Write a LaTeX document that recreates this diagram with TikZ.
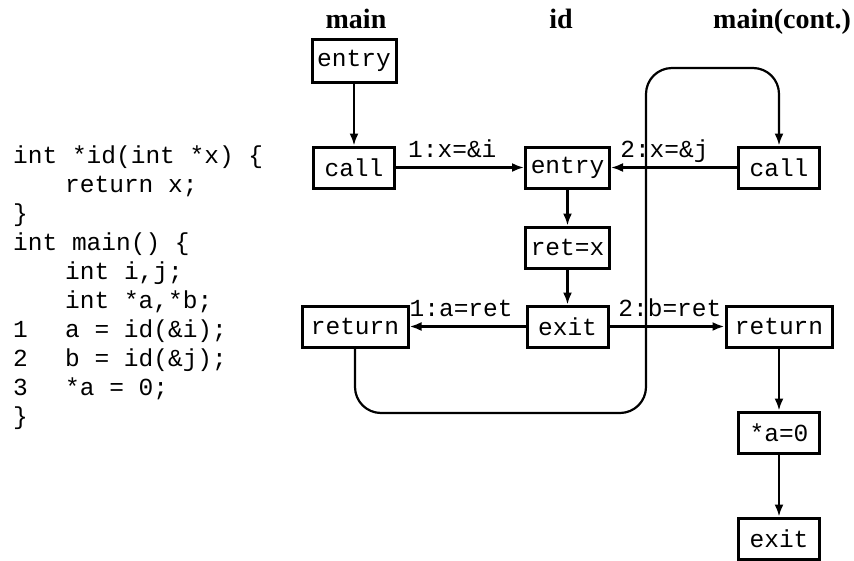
\documentclass[tikz,border=0pt]{standalone}
\usepackage{fontspec}
\setmainfont{Liberation Serif}
\newfontfamily\monof{Liberation Mono}
\usetikzlibrary{arrows.meta}
\begin{document}
\begin{tikzpicture}[x=1pt,y=-1pt,
  mfont/.style={font=\monof\fontsize{24.5}{29}\selectfont},
  box/.style={draw, line width=3pt, minimum height=41pt, inner sep=0pt, mfont},
  lbl/.style={mfont, inner sep=0pt, anchor=base, yshift=10pt},
  codeline/.style={mfont, inner sep=0pt, anchor=base west},
  ttl/.style={font=\bfseries\fontsize{28}{32}\selectfont, inner sep=0pt, anchor=base},
  conn/.style={line width=2.2pt, -{Latex[length=12pt,width=9pt]}},
  thickconn/.style={line width=3pt, -{Latex[length=12pt,width=9pt]}},
  ]
\useasboundingbox (0,0) rectangle (854,560);

% titles
\node[ttl] (t1) at (356,28) {main};
\node[ttl] (t2) at (561,28) {id};
\node[ttl] (t3) at (782,28) {main(cont.)};

% code
\node[codeline] (c1) at (13,163) {int *id(int *x) \{};
\node[codeline] (c2) at (13,192) {\hspace*{52pt}return x;};
\node[codeline] (c3) at (13,221) {\}};
\node[codeline] (c4) at (13,250) {int main() \{};
\node[codeline] (c5) at (13,279) {\hspace*{52pt}int i,j;};
\node[codeline] (c6) at (13,308) {\hspace*{52pt}int *a,*b;};
\node[codeline] (c7) at (13,337) {\makebox[52pt][l]{1}a = id(\&i);};
\node[codeline] (c8) at (13,366) {\makebox[52pt][l]{2}b = id(\&j);};
\node[codeline] (c9) at (13,395) {\makebox[52pt][l]{3}*a = 0;};
\node[codeline] (c10) at (13,424) {\}};

% nodes
\node[box, minimum width=84pt, minimum height=43pt] (me) at (354,60.5) {entry};
\node[box, minimum width=81pt] (mc) at (354,167.5) {call};
\node[box, minimum width=84pt] (ie) at (567.5,167.5) {entry};
\node[box, minimum width=84pt] (ir) at (567.5,247.5) {ret=x};
\node[box, minimum width=81pt] (ix) at (567.5,326.5) {exit};
\node[box, minimum width=81pt] (cc) at (779,167.5) {call};
\node[box, minimum width=106pt] (rl) at (355,326.5) {return};
\node[box, minimum width=106pt] (rr) at (779,326.5) {return};
\node[box, minimum width=81pt] (az) at (779,432.5) {*a=0};
\node[box, minimum width=81pt] (ex) at (779,538.5) {exit};

% edges
\draw[conn] (me) -- (mc);
\draw[conn] (mc.east) -- node[lbl, pos=0.44] (l1) {1:x=\&i} (ie.west);
\draw[conn] (cc.west) -- node[lbl, pos=0.576] (l2) {2:x=\&j} (ie.east);
\draw[conn] (ie) -- (ir);
\draw[conn] (ir) -- (ix);
\draw[thickconn] (ix.west) -- node[lbl, pos=0.555] (l3) {1:a=ret} (rl.east);
\draw[thickconn] (ix.east) -- node[lbl, pos=0.525] (l4) {2:b=ret} (rr.west);
\draw[conn] (rr) -- (az);
\draw[conn] (az) -- (ex);

% loop from return (left) to call (cont.)
\coordinate (lb) at (355,413);
\coordinate (rb) at (646,413);
\coordinate (rt) at (646,68);
\coordinate (lt) at (779,68);
\draw[conn, rounded corners=26pt] (rl.south) -- (lb) -- (rb) -- (rt) -- (lt) -- (cc.north);
\end{tikzpicture}
\end{document}
